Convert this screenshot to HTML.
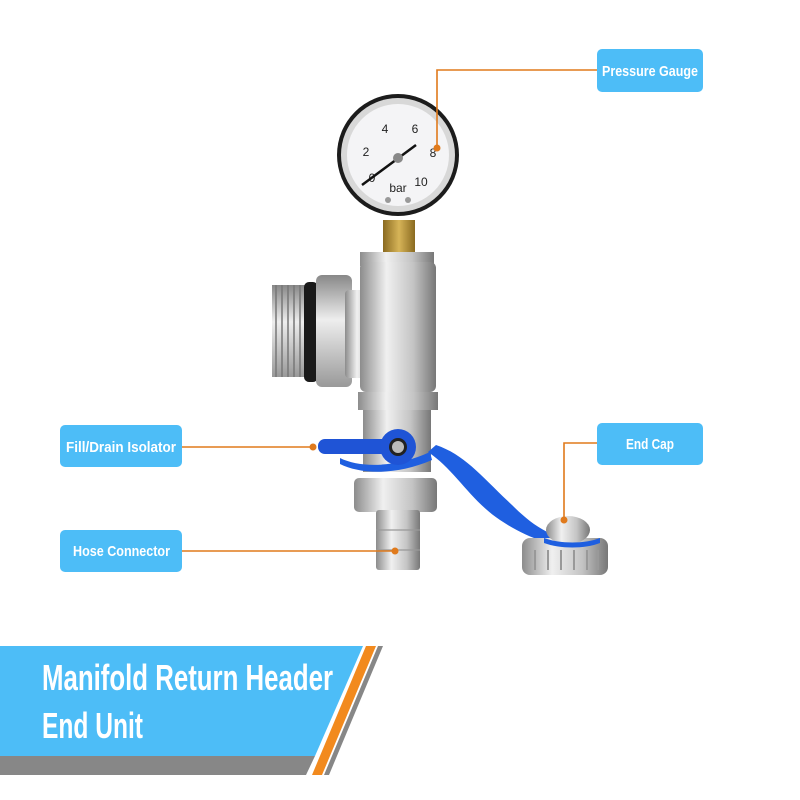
<!DOCTYPE html>
<html><head><meta charset="utf-8"><style>
html,body{margin:0;padding:0;background:#fff;}
svg{display:block}
.lb{font-family:"Liberation Sans",sans-serif;font-weight:bold;fill:#fff;font-size:15px}
.tt{font-family:"Liberation Sans",sans-serif;font-weight:bold;fill:#fff;font-size:36px}
</style></head><body>
<svg width="800" height="800" viewBox="0 0 800 800" xmlns="http://www.w3.org/2000/svg">
<defs>
<linearGradient id="m" x1="0" x2="1"><stop offset="0" stop-color="#8c8c8c"/><stop offset=".35" stop-color="#f0f0f0"/><stop offset=".7" stop-color="#c4c4c4"/><stop offset="1" stop-color="#777"/></linearGradient>
<linearGradient id="mv" x1="0" y1="0" x2="0" y2="1"><stop offset="0" stop-color="#888"/><stop offset=".4" stop-color="#eee"/><stop offset="1" stop-color="#999"/></linearGradient>
<linearGradient id="br" x1="0" x2="1"><stop offset="0" stop-color="#8a6a20"/><stop offset=".5" stop-color="#d6b458"/><stop offset="1" stop-color="#8a6a20"/></linearGradient>
</defs>
<rect x="272" y="285" width="36" height="92" fill="url(#mv)"/>
<g stroke="#777" stroke-width="1.5">
<line x1="276" y1="285" x2="276" y2="377"/><line x1="282" y1="285" x2="282" y2="377"/><line x1="288" y1="285" x2="288" y2="377"/><line x1="294" y1="285" x2="294" y2="377"/><line x1="300" y1="285" x2="300" y2="377"/></g>
<rect x="304" y="282" width="14" height="100" rx="5" fill="#1a1a1a"/>
<rect x="316" y="275" width="36" height="112" rx="6" fill="url(#mv)"/>
<rect x="345" y="290" width="34" height="88" rx="4" fill="url(#m)"/>
<rect x="360" y="252" width="74" height="14" fill="url(#m)"/>
<rect x="360" y="262" width="76" height="130" rx="6" fill="url(#m)"/>
<rect x="358" y="392" width="80" height="18" fill="url(#m)"/>
<rect x="363" y="410" width="68" height="62" fill="url(#m)"/>
<rect x="354" y="478" width="83" height="34" rx="5" fill="url(#m)"/>
<rect x="376" y="510" width="44" height="60" rx="3" fill="url(#m)"/>
<g stroke="#999" stroke-width="1.2"><line x1="376" y1="530" x2="420" y2="530"/><line x1="376" y1="550" x2="420" y2="550"/></g>
<rect x="383" y="220" width="32" height="32" fill="url(#br)"/>
<path d="M428 452 C455 470 470 500 500 520 C530 540 560 550 600 546 L598 540 C560 545 535 528 512 505 C480 475 465 455 436 445 Z" fill="#1f5fe0"/>
<path d="M340 458 C360 468 395 468 430 452 L432 460 C395 476 360 474 340 464Z" fill="#1f5fe0"/>
<rect x="318" y="439" width="82" height="15" rx="7" fill="#1f54d6"/>
<circle cx="398" cy="447" r="18" fill="#1f54d6"/>
<circle cx="398" cy="447" r="9" fill="#222"/><circle cx="398" cy="447" r="6" fill="#bbb"/>
<rect x="522" y="538" width="86" height="37" rx="8" fill="url(#m)"/>
<g stroke="#999" stroke-width="2"><line x1="535" y1="550" x2="535" y2="570"/><line x1="548" y1="550" x2="548" y2="570"/><line x1="561" y1="550" x2="561" y2="570"/><line x1="574" y1="550" x2="574" y2="570"/><line x1="587" y1="550" x2="587" y2="570"/><line x1="598" y1="550" x2="598" y2="570"/></g>
<ellipse cx="568" cy="530" rx="22" ry="14" fill="url(#m)"/>
<path d="M544 538 C560 544 585 544 600 538 L600 543 C585 549 560 549 544 543Z" fill="#1f5fe0"/>
<circle cx="398" cy="155" r="61" fill="#1c1c1c"/>
<circle cx="398" cy="155" r="57" fill="#d8d8d8"/>
<circle cx="398" cy="155" r="51" fill="#f4f4f6"/>
<g font-family="Liberation Sans, sans-serif" font-size="12" fill="#222" text-anchor="middle">
<text x="385" y="133">4</text><text x="415" y="133">6</text><text x="366" y="156">2</text><text x="433" y="157">8</text><text x="372" y="182">0</text><text x="421" y="186">10</text><text x="398" y="192">bar</text></g>
<circle cx="388" cy="200" r="3" fill="#999"/><circle cx="408" cy="200" r="3" fill="#999"/>
<line x1="362" y1="185" x2="416" y2="145" stroke="#111" stroke-width="2.5"/>
<circle cx="398" cy="158" r="5" fill="#888"/>
<g stroke="#e07a1c" stroke-width="1.6" fill="none">
<polyline points="597,70 437,70 437,148"/>
<polyline points="182,447 313,447"/>
<polyline points="182,551 395,551"/>
<polyline points="597,443 564,443 564,520"/>
</g>
<g fill="#e07a1c"><circle cx="437" cy="148" r="3.5"/><circle cx="313" cy="447" r="3.5"/><circle cx="395" cy="551" r="3.5"/><circle cx="564" cy="520" r="3.5"/></g>
<rect x="597" y="49" width="106" height="43" rx="5" fill="#4dbdf7"/>
<text class="lb" x="602" y="76" textLength="96" lengthAdjust="spacingAndGlyphs">Pressure Gauge</text>
<rect x="60" y="425" width="122" height="42" rx="5" fill="#4dbdf7"/>
<text class="lb" x="66" y="452" textLength="110" lengthAdjust="spacingAndGlyphs">Fill/Drain Isolator</text>
<rect x="60" y="530" width="122" height="42" rx="5" fill="#4dbdf7"/>
<text class="lb" x="73" y="556" textLength="97" lengthAdjust="spacingAndGlyphs">Hose Connector</text>
<rect x="597" y="423" width="106" height="42" rx="5" fill="#4dbdf7"/>
<text class="lb" x="626" y="449" textLength="48" lengthAdjust="spacingAndGlyphs">End Cap</text>
<polygon points="0,756 315,756 306,775 0,775" fill="#878787"/>
<polygon points="0,646 363,646 315,756 0,756" fill="#4dbdf7"/>
<polygon points="366,646 376,646 322,775 312,775" fill="#f28a1e"/>
<polygon points="378,646 383,646 329,775 324,775" fill="#878787"/>
<text class="tt" x="42" y="690" textLength="291" lengthAdjust="spacingAndGlyphs">Manifold Return Header</text>
<text class="tt" x="42" y="738" textLength="101" lengthAdjust="spacingAndGlyphs">End Unit</text>
</svg>
</body></html>
